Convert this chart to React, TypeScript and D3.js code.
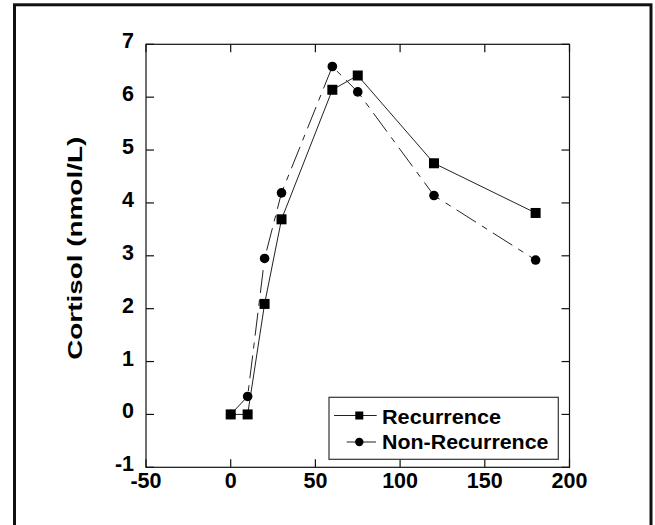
import React from "react";
import * as d3 from "d3";

const timePoints = [0, 10, 20, 30, 60, 75, 120, 180];
const recurrence = [0, 0, 2.09, 3.69, 6.14, 6.41, 4.75, 3.81];
const nonRecurrence = [0, 0.34, 2.95, 4.19, 6.58, 6.1, 4.14, 2.92];
const xTicks = [-50, 0, 50, 100, 150, 200];
const yTicks = [-1, 0, 1, 2, 3, 4, 5, 6, 7];
const seriesNames = ["Recurrence", "Non-Recurrence"];
const yLabel = "Cortisol (nmol/L)";

const W = 655;
const H = 525;
const FONT = "'Liberation Sans', Arial, sans-serif";

export default function App() {
  const x = d3.scaleLinear().domain([-50, 200]).range([146, 569.5]);
  const y = d3.scaleLinear().domain([-1, 7]).range([467.3, 44.3]);
  const [x0, x1] = x.range();
  const [y0, y1] = y.range();

  const line = d3
    .line<[number, number]>()
    .x((d) => x(d[0]))
    .y((d) => y(d[1]));

  const recPts: [number, number][] = timePoints.map((t, i) => [t, recurrence[i]]);
  const nonPts: [number, number][] = timePoints.map((t, i) => [t, nonRecurrence[i]]);

  const tickLen = 8;
  const lineColor = "#222";

  return (
    <svg
      width={W}
      height={H}
      style={{ position: "absolute", left: 0, top: 0, background: "#fff" }}
    >
      <rect x={0} y={0} width={W} height={H} fill="#fff" />
      {/* outer border */}
      <rect
        x={14.5}
        y={4.8}
        width={651 - 14.5}
        height={540}
        fill="none"
        stroke="#111"
        strokeWidth={3}
      />
      {/* plot frame */}
      <rect
        x={x0}
        y={y1}
        width={x1 - x0}
        height={y0 - y1}
        fill="none"
        stroke="#111"
        strokeWidth={1.2}
      />
      {/* x ticks */}
      {xTicks.map((t) => (
        <g key={"xt" + t}>
          <line x1={x(t)} x2={x(t)} y1={y0} y2={y0 - tickLen} stroke="#111" strokeWidth={1.2} />
          <line x1={x(t)} x2={x(t)} y1={y1} y2={y1 + tickLen} stroke="#111" strokeWidth={1.2} />
          <text
            x={x(t)}
            y={y0 + 21}
            textAnchor="middle"
            fontFamily={FONT}
            fontWeight="bold"
            fontSize={21.5}
            fill="#000"
          >
            {t}
          </text>
        </g>
      ))}
      {/* y ticks */}
      {yTicks.map((t) => (
        <g key={"yt" + t}>
          <line x1={x0} x2={x0 + tickLen} y1={y(t)} y2={y(t)} stroke="#111" strokeWidth={1.2} />
          <line x1={x1} x2={x1 - tickLen} y1={y(t)} y2={y(t)} stroke="#111" strokeWidth={1.2} />
          <text
            x={134}
            y={y(t) + 4}
            textAnchor="end"
            fontFamily={FONT}
            fontWeight="bold"
            fontSize={21.5}
            fill="#000"
          >
            {t}
          </text>
        </g>
      ))}
      {/* y label */}
      <text
        transform={`translate(81.5, 248.3) rotate(-90)`}
        textAnchor="middle"
        fontFamily={FONT}
        fontWeight="bold"
        fontSize={21}
        textLength={223}
        lengthAdjust="spacingAndGlyphs"
        fill="#000"
      >
        {yLabel}
      </text>
      {/* series lines */}
      <path d={line(recPts) || ""} fill="none" stroke={lineColor} strokeWidth={1} />
      <path
        d={line(nonPts) || ""}
        fill="none"
        stroke={lineColor}
        strokeWidth={1}
        strokeDasharray="23,7,6,7"
      />
      {/* markers */}
      {recPts.map((p, i) => (
        <rect
          key={"rm" + i}
          x={x(p[0]) - 5}
          y={y(p[1]) - 5}
          width={10}
          height={10}
          fill="#000"
        />
      ))}
      {nonPts.map((p, i) => (
        <circle key={"nm" + i} cx={x(p[0])} cy={y(p[1])} r={4.8} fill="#000" />
      ))}
      {/* legend */}
      <rect
        x={329}
        y={397.3}
        width={558.3 - 329}
        height={459.3 - 397.3}
        fill="#fff"
        stroke="#333"
        strokeWidth={1.2}
      />
      <line x1={334} x2={376.7} y1={415.5} y2={415.5} stroke={lineColor} strokeWidth={1} />
      <rect x={359.3 - 4} y={415.5 - 4} width={8} height={8} fill="#000" />
      <text
        x={382}
        y={424.3}
        fontFamily={FONT}
        fontWeight="bold"
        fontSize={21}
        textLength={119}
        lengthAdjust="spacingAndGlyphs"
        fill="#000"
      >
        {seriesNames[0]}
      </text>
      <line x1={346.7} x2={376} y1={442} y2={442} stroke={lineColor} strokeWidth={1} />
      <circle cx={359.3} cy={442} r={4.2} fill="#000" />
      <text
        x={382}
        y={448.5}
        fontFamily={FONT}
        fontWeight="bold"
        fontSize={21}
        textLength={166.5}
        lengthAdjust="spacingAndGlyphs"
        fill="#000"
      >
        {seriesNames[1]}
      </text>
    </svg>
  );
}
